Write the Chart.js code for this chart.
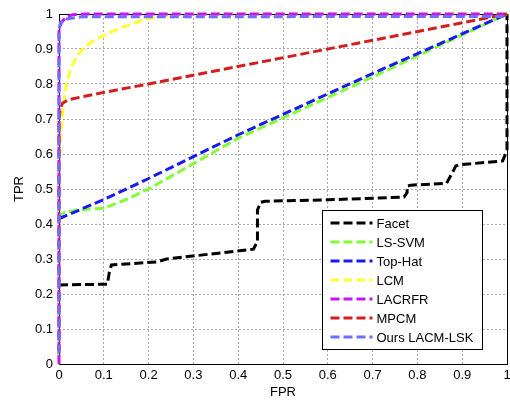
<!DOCTYPE html>
<html>
<head>
<meta charset="utf-8">
<script src="https://cdn.jsdelivr.net/npm/chart.js@4"></script>
<style>
  body { margin: 0; background: #fff; }
  canvas { display: block; }
</style>
</head>
<body>
<canvas id="rocChart" width="510" height="401"></canvas>
<script>
/* Curvas ROC de cada método */
const fprFacet = [0, 0.108, 0.112, 0.117, 0.22, 0.24, 0.434, 0.443, 0.443, 0.45, 0.46, 0.6, 0.77, 0.777, 0.777, 0.785, 0.865, 0.886, 0.9, 0.99, 1, 1];
const tprFacet = [0.226, 0.228, 0.26, 0.283, 0.292, 0.3, 0.328, 0.35, 0.44, 0.462, 0.465, 0.469, 0.477, 0.49, 0.508, 0.511, 0.516, 0.566, 0.57, 0.58, 0.61, 1];

const fprLsSvm = [0, 0.01, 0.04, 0.1, 0.15, 0.2, 0.4, 0.7, 1];
const tprLsSvm = [0.415, 0.432, 0.44, 0.445, 0.47, 0.5, 0.645, 0.82, 1];

const fprTopHat = [0, 0.1, 0.2, 0.4, 0.7, 1];
const tprTopHat = [0.415, 0.47, 0.53, 0.655, 0.83, 1];

const fprLcm = [0, 0, 0.004, 0.008, 0.015, 0.025, 0.04, 0.06, 0.08, 0.11, 0.14, 0.17, 0.2, 0.22, 0.3, 1];
const tprLcm = [0, 0.55, 0.65, 0.72, 0.79, 0.84, 0.88, 0.91, 0.925, 0.945, 0.962, 0.975, 0.987, 0.992, 1, 1];

const fprLacrfr = [0, 0, 0.005, 0.015, 0.03, 0.06, 1];
const tprLacrfr = [0, 0.95, 0.975, 0.99, 0.998, 1, 1];

const fprMpcm = [0, 0, 0.003, 0.008, 0.02, 0.1, 0.2, 1];
const tprMpcm = [0.03, 0.7, 0.73, 0.745, 0.755, 0.776, 0.8, 1];

const fprOurs = [0, 0, 0.003, 0.01, 0.05, 1];
const tprOurs = [0.03, 0.95, 0.975, 0.985, 0.992, 0.993];

const methodNames = ["Facet", "LS-SVM", "Top-Hat", "LCM", "LACRFR", "MPCM", "Ours LACM-LSK"];
const methodColors = ["#000000", "#80ff33", "#1a1aee", "#ffff33", "#cc11ff", "#d21e1e", "#6e6eff"];
const tickValues = [0, 0.1, 0.2, 0.3, 0.4, 0.5, 0.6, 0.7, 0.8, 0.9, 1];

const curves = [
  [fprFacet, tprFacet],
  [fprLsSvm, tprLsSvm],
  [fprTopHat, tprTopHat],
  [fprLcm, tprLcm],
  [fprLacrfr, tprLacrfr],
  [fprMpcm, tprMpcm],
  [fprOurs, tprOurs]
];

const dashedLine = [9, 4];
const fontFamily = "'Liberation Sans', Arial, sans-serif";

// arma los datasets; los últimos se dibujan encima
const datasets = curves.map((c, i) => ({
  label: methodNames[i],
  data: c[0].map((x, j) => ({ x: x, y: c[1][j] })),
  showLine: true,
  borderColor: methodColors[i],
  backgroundColor: methodColors[i],
  borderWidth: 3,
  borderDash: dashedLine,
  pointRadius: 0,
  tension: 0,
  clip: false,
  order: curves.length - i
}));

// marco negro del área de gráfico
const axesBox = {
  id: "axesBox",
  beforeDatasetsDraw(chart) {
    const a = chart.chartArea;
    const ctx = chart.ctx;
    ctx.save();
    ctx.strokeStyle = "#000";
    ctx.lineWidth = 1;
    ctx.strokeRect(a.left + 0.5, a.top + 0.5, a.right - a.left, a.bottom - a.top);
    ctx.restore();
  }
};

// leyenda dentro del gráfico, abajo a la derecha
const insideLegend = {
  id: "insideLegend",
  afterDraw(chart) {
    const a = chart.chartArea;
    const ctx = chart.ctx;
    const w = 160, h = 139;
    const x0 = Math.round(a.right - 25 - w) + 0.5;
    const y0 = Math.round(a.bottom - 15 - h) + 0.5;
    ctx.save();
    ctx.fillStyle = "#fff";
    ctx.fillRect(x0, y0, w, h);
    ctx.strokeStyle = "#000";
    ctx.lineWidth = 1;
    ctx.strokeRect(x0, y0, w, h);
    ctx.font = "13px " + fontFamily;
    ctx.textBaseline = "middle";
    chart.data.datasets.forEach((ds, i) => {
      const y = y0 + 12.5 + i * 19;
      ctx.setLineDash(dashedLine);
      ctx.strokeStyle = ds.borderColor;
      ctx.lineWidth = 3;
      ctx.beginPath();
      ctx.moveTo(x0 + 8, y);
      ctx.lineTo(x0 + 50, y);
      ctx.stroke();
      ctx.setLineDash([]);
      ctx.fillStyle = "#000";
      ctx.fillText(ds.label, x0 + 54, y + 1);
    });
    ctx.restore();
  }
};

const gridStyle = { color: "#a8a8a8", lineWidth: 1, drawTicks: false };

new Chart(document.getElementById("rocChart"), {
  type: "scatter",
  data: { datasets: datasets },
  options: {
    responsive: false,
    animation: false,
    layout: { padding: { top: 14, right: 3, left: 0, bottom: 0 } },
    plugins: { legend: { display: false }, tooltip: { enabled: false } },
    scales: {
      x: {
        type: "linear",
        min: 0,
        max: 1,
        afterFit: (s) => {
          s.height = 37;
          s.paddingLeft = 0;
          s.paddingRight = 0;
        },
        afterBuildTicks: (s) => { s.ticks = tickValues.map((v) => ({ value: v })); },
        grid: gridStyle,
        border: { display: false, dash: [2, 2] },
        ticks: {
          padding: 4,
          color: "#000",
          font: { size: 13, family: fontFamily },
          maxRotation: 0,
          callback: (v) => String(v)
        },
        title: {
          display: true,
          text: "FPR",
          color: "#000",
          font: { size: 13, family: fontFamily },
          padding: { top: 0, bottom: 1 }
        }
      },
      y: {
        type: "linear",
        min: 0,
        max: 1,
        afterFit: (s) => {
          s.width = 59;
          s.paddingTop = 0;
          s.paddingBottom = 0;
        },
        afterBuildTicks: (s) => { s.ticks = tickValues.map((v) => ({ value: v })); },
        grid: gridStyle,
        border: { display: false, dash: [2, 2] },
        ticks: {
          padding: 6,
          color: "#000",
          font: { size: 13, family: fontFamily },
          callback: (v) => String(v)
        },
        title: {
          display: true,
          text: "TPR",
          color: "#000",
          font: { size: 13, family: fontFamily },
          padding: { top: 12, bottom: 0 }
        }
      }
    }
  },
  plugins: [axesBox, insideLegend]
});
</script>
</body>
</html>
